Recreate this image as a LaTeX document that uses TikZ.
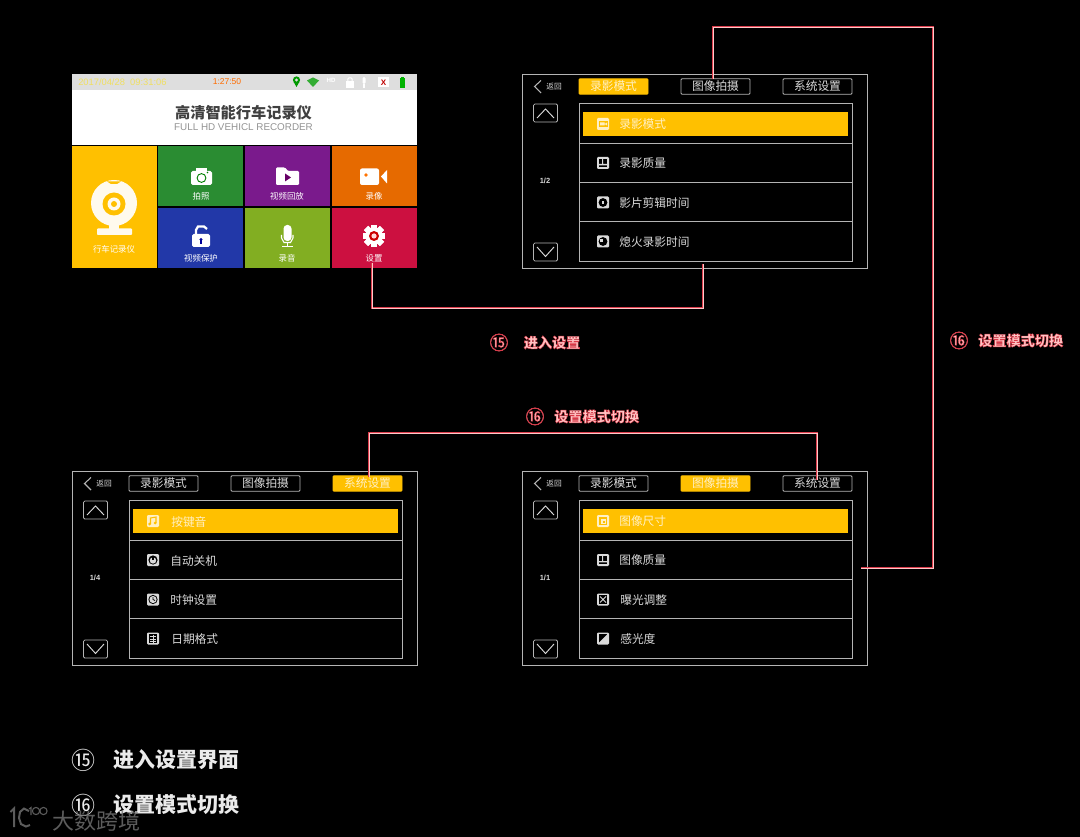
\documentclass[tikz,border=0pt]{standalone}
\usepackage{fontspec}
\setmainfont{Liberation Sans}
\newfontfamily\cjk{Noto Sans CJK SC}
\usetikzlibrary{calc}
\definecolor{amber}{HTML}{FFC000}
\definecolor{edgegray}{HTML}{B4B4B4}
\definecolor{uitext}{HTML}{DADADA}
\definecolor{onamber}{HTML}{FFF0C4}
\definecolor{linkred}{HTML}{DC3C4C}
\definecolor{linkcore}{HTML}{FFC8C8}
\definecolor{labelred}{HTML}{FFC4C4}
\newcommand\fsz[1]{\fontsize{#1}{#1}\selectfont}
\newcommand\redoutline[1]{\special{pdf:code 2 Tr 0.3 w 0.86 0.22 0.28 RG}#1\special{pdf:code 0 Tr}}
\colorlet{iconfg}{uitext}
\colorlet{iconbg}{black}
\tikzset{
  x=0.75pt,y=-0.75pt,
  uibox/.style={draw=edgegray,line width=0.62pt,inner sep=0pt,outer sep=0pt},
  tabbox/.style={uibox,rounded corners=0.7pt,minimum width=51.75pt,minimum height=11.6pt,font=\cjk\fsz{8.8pt},text=uitext},
  tabon/.style={draw=amber,fill=amber,text=onamber},
  navbtn/.style={uibox,rounded corners=1pt,minimum width=18pt,minimum height=13.5pt},
  rowtext/.style={anchor=west,inner sep=0pt,yshift=-0.4pt,font=\cjk\fsz{8.8pt},text=uitext},
  tile/.style={inner sep=0pt,outer sep=0pt,minimum width=63.75pt,minimum height=45pt},
  tilelabel/.style={inner sep=0pt,font=\cjk\fsz{6.3pt},text=white},
  linkline/.style={draw=linkred,double=linkcore,line width=0.55pt,double distance=0.6pt},
  redlabel/.style={inner sep=0pt,font=\cjk\bfseries\fsz{10.6pt},text=labelred,anchor=west},
  rednum/.style={inner sep=0pt,font=\cjk\fsz{14pt},text=labelred},
  legendtext/.style={inner sep=0pt,font=\cjk\bfseries\fsz{15.7pt},text=white!92!black,anchor=west},
  legendnum/.style={inner sep=0pt,font=\cjk\fsz{18pt},text=white!92!black},
}
% frame of a menu screen, coordinates as in the top right screen
\newcommand\uiframe[3]{%
  \tikzset{tabpick1/.style={},tabpick2/.style={},tabpick3/.style={},tabpick#2/.style={tabon}}%
  \node[uibox,minimum width=258.75pt,minimum height=145.5pt] (#1-frame) at (694.5,171) {};
  \draw[edgegray,line width=0.8pt] (541,80.5) -- (534.5,86.5) -- (541,93);
  \node[inner sep=0pt,font=\cjk\fsz{5.8pt},text=uitext] (#1-back) at (554,87) {返回};
  \node[tabbox,tabpick1] (#1-tab1) at (613.5,86.5) {录影模式};
  \node[tabbox,tabpick2] (#1-tab2) at (715.5,86.5) {图像拍摄};
  \node[tabbox,tabpick3] (#1-tab3) at (817.5,86.5) {系统设置};
  \node[navbtn] (#1-up) at (545.5,113) {};
  \draw[uitext,line width=0.7pt] (537,118) -- (545.5,109) -- (554,118);
  \node[navbtn] (#1-down) at (545.5,252) {};
  \draw[uitext,line width=0.7pt] (537,247) -- (545.5,256.5) -- (554,247);
  \node[inner sep=0pt,font=\bfseries\fsz{5.6pt},text=uitext] (#1-page) at (545,180.5) {#3};
  \node[uibox,minimum width=204.75pt,minimum height=118pt] (#1-list) at (715.5,182.5) {};
  \draw[edgegray,line width=0.62pt] (#1-list.west |- 0,143) -- (#1-list.east |- 0,143)
    (#1-list.west |- 0,182.5) -- (#1-list.east |- 0,182.5)
    (#1-list.west |- 0,221.5) -- (#1-list.east |- 0,221.5);
  \fill[amber] (583,112) rectangle (848,136);
}
% one row: name, y centre, text left edge, text, icon macro
\newcommand\uirow[5]{%
  \begin{scope}[shift={(603,#2)}]\iconbox #5\end{scope}
  \node[rowtext] (#1) at (#3,#2) {#4};
}
\newcommand\uirowon[5]{%
  \begingroup\colorlet{iconfg}{onamber}\colorlet{iconbg}{amber}%
  \begin{scope}[shift={(603,#2)}]\iconbox #5\end{scope}
  \node[rowtext,text=onamber] (#1) at (#3,#2) {#4};
  \endgroup
}
\newcommand\iconbox{\fill[iconfg,rounded corners=0.9pt] (-6,-6) rectangle (6,6);}
\newcommand\icmode{\fill[iconbg] (-4.5,-3) rectangle (4.5,3); \fill[iconfg] (-3,-1.5) rectangle (1.5,1.5) (1.5,0) -- (4,-1.5) -- (4,1.5) -- cycle;}
\newcommand\icqual{\fill[iconbg] (-4,-4) rectangle (4,4); \fill[iconfg] (-4,1) rectangle (4,2.4) (-1,-4) rectangle (0,1) ;}
\newcommand\icclip{\fill[iconbg] (0,0) circle[radius=4.4]; \fill[iconfg] (-1.3,-1.3) rectangle (1.3,1.3);}
\newcommand\icoff{\fill[iconbg] (0,0) circle[radius=4.4]; \fill[iconfg] (-3.5,-2.5) rectangle (0,0.5);}
\newcommand\icresize{\fill[iconbg] (-4,-4) rectangle (4,4); \fill[iconfg] (-2,-2) rectangle (3,3); \fill[iconbg] (-0.3,-0.3) rectangle (1.5,1.5);}
\newcommand\icexpo{\fill[iconbg] (-4.4,-4.4) rectangle (4.4,4.4); \draw[iconfg,line width=0.6pt] (-3,-3) -- (3,3) (-3,3) -- (3,-3);}
\newcommand\icsens{\fill[iconbg] (-4.4,-4.4) rectangle (4.4,4.4); \fill[iconfg] (-4.4,4.4) -- (4.4,-4.4) -- (4.4,4.4) -- cycle;}
\newcommand\icsound{\draw[iconbg,line width=0.8pt] (-2.5,3) -- (-2.5,-3) -- (3,-4) -- (3,2); \fill[iconbg] (-3.5,3) circle[radius=1.5] (2,2) circle[radius=1.5];}
\newcommand\icpower{\fill[iconbg] (0,0) circle[radius=4.6]; \fill[iconfg] (0,0.5) circle[radius=3.2]; \fill[iconbg] (-0.7,-4.5) rectangle (0.7,0);}
\newcommand\icclock{\fill[iconbg] (0,0) circle[radius=4.6]; \fill[iconfg] (0,0) circle[radius=3.6]; \draw[iconbg,line width=0.6pt] (0,-2.6) -- (0,0) -- (2,1);}
\newcommand\icdate{\fill[iconbg] (-4.2,-4.2) rectangle (4.2,4.2); \draw[iconfg,line width=0.6pt] (-3,-2) -- (3,-2) (-3,0.5) -- (3,0.5) (-3,3) -- (3,3) (0,-4) -- (0,4);}
\begin{document}
\begin{tikzpicture}
\useasboundingbox (0,0) rectangle (1080,837);
\fill[black] (0,0) rectangle (1080,837);

% ---------- home screen
\fill[white] (72,90) rectangle (417,145);
\node[inner sep=0pt,outer sep=0pt,fill=white!87!black,minimum width=258.75pt,minimum height=12pt] (statusbar) at (244.5,82) {};
\node[inner sep=0pt,font=\fsz{7pt},text={rgb,255:red,240;green,222;blue,96},anchor=west] (stamp) at (78,82) {2017/04/28\ \ 09:31:06};
\node[inner sep=0pt,font=\fsz{6.4pt},text=orange!85!red] (timer) at (227,82) {1:27:50};
% status icons
\fill[green!60!black] (296.5,80) circle[radius=3.6];
\fill[green!60!black] (293.7,82) -- (296.5,87) -- (299.3,82) -- cycle;
\fill[white!87!black] (296.5,80) circle[radius=1.6];
\fill[green!60!black!80!white] (307,80.5) -- (313,77.5) -- (319,80.5) -- (313,87) -- cycle;
\node[inner sep=0pt,font=\bfseries\fsz{4.6pt},text=white] (hdmark) at (331,80) {HD};
\fill[white] (346,81) rectangle (354,88);
\draw[white,line width=0.7pt] (347.8,81) -- (347.8,79) -- (349,77.8) -- (351,77.8) -- (352.2,79) -- (352.2,81);
\fill[white,rounded corners=1pt] (362.5,77) rectangle (365.5,84);
\fill[white] (363.4,84) rectangle (364.6,88);
\fill[white] (378,77.5) rectangle (389,87.5);
\node[inner sep=0pt,font=\bfseries\fsz{6pt},text=red!75!black] (xmark) at (383.5,82.5) {X};
\fill[green!70!black] (399.5,78) rectangle (405,88);
\fill[green!70!black] (401,77) rectangle (403.5,78);
\node[inner sep=0pt,font=\cjk\bfseries\fsz{11.4pt},text=black!75] (hometitle) at (243.5,112.5) {高清智能行车记录仪};
\node[inner sep=0pt,font=\fsz{7.4pt},text=black!42] (homesub) at (243.5,127) {FULL HD VEHICL RECORDER};

% tiles
\node[tile,fill=amber,minimum height=91.5pt,minimum width=64pt] (tdash) at (114.5,207) {};
\node[tile,fill={rgb,255:red,42;green,140;blue,50}] (tphoto) at (200.5,176) {};
\node[tile,fill={rgb,255:red,122;green,26;blue,140}] (tplay) at (287.5,176) {};
\node[tile,fill={rgb,255:red,230;green,106;blue,0}] (trec) at (374.5,176) {};
\node[tile,fill={rgb,255:red,34;green,56;blue,168}] (tlock) at (200.5,238) {};
\node[tile,fill={rgb,255:red,130;green,174;blue,34}] (tmic) at (287.5,238) {};
\node[tile,fill={rgb,255:red,204;green,16;blue,64}] (tset) at (374.5,238) {};
\node[tilelabel] (ldash) at (114,249) {行车记录仪};
\node[tilelabel] (lphoto) at (201,196.5) {拍照};
\node[tilelabel] (lplay) at (287,196.5) {视频回放};
\node[tilelabel] (lrec) at (374,196.5) {录像};
\node[tilelabel] (llock) at (201,258) {视频保护};
\node[tilelabel] (lmic) at (287,258) {录音};
\node[tilelabel] (lset) at (374,258) {设置};
% webcam
\fill[onamber!30!white] (114,203) circle[radius=23];
\fill[amber] (114,204) circle[radius=11.5];
\fill[onamber!30!white] (114,204) circle[radius=6.5];
\fill[amber] (114,204) circle[radius=3];
\fill[amber] (107,181.5) -- (121,181.5) -- (117,184) -- (111,184) -- cycle;
\fill[onamber!30!white] (109,224) rectangle (119,229);
\fill[onamber!30!white,rounded corners=0.6pt] (97,228.5) rectangle (132,235);
% camera
\fill[white,rounded corners=1.2pt] (191,171) rectangle (212,185);
\fill[white] (196,168.5) rectangle (207,172);
\draw[green!50!black,line width=0.7pt] (201.5,178) circle[radius=4.4];
\fill[green!50!black] (207.5,172.5) circle[radius=0.8];
% folder
\fill[white,rounded corners=0.8pt] (276,167.5) -- (285,167.5) -- (288,171) -- (299,171) -- (299,185) -- (276,185) -- cycle;
\fill[violet!80!black] (285,173.5) -- (291,177.5) -- (285,181.5) -- cycle;
% video
\fill[white,rounded corners=1.5pt] (360,168.5) rectangle (379,185);
\fill[white] (381,176.5) -- (387,170) -- (387,183.5) -- cycle;
\fill[orange!90!red] (366,175) circle[radius=1.8];
% lock
\fill[white,rounded corners=1.2pt] (192,234) rectangle (210,247);
\draw[white,line width=1.7pt] (196,234) -- (196,230) -- (198,226.5) -- (204,226.5) -- (207,229);
\fill[blue!60!black] (201,239.5) circle[radius=1.6];
\fill[blue!60!black] (200.3,240) rectangle (201.7,244);
% microphone
\fill[white,rounded corners=2.7pt] (283.5,225) rectangle (291.5,241);
\draw[white,line width=0.8pt] (281.5,235) -- (281.5,238) -- (284,242.5) -- (290.5,242.5) -- (293,238) -- (293,235);
\draw[white,line width=0.8pt] (287.5,243) -- (287.5,246.5) (282,246.5) -- (293,246.5);
% gear
\foreach \a in {0,45,...,315}{\fill[white,rotate around={\a:(374,236)}] (371,224.8) rectangle (377,247.2);}
\fill[white] (374,236) circle[radius=8.7];
\fill[red!80!black] (374,236) circle[radius=5];
\fill[white!85!red] (374,236) circle[radius=2.6];

% ---------- menu screens
\begin{scope}
  \uiframe{sa}{1}{1/2}
  \uirowon{sa-r1}{124}{619}{录影模式}{\icmode}
  \uirow{sa-r2}{163}{619}{录影质量}{\icqual}
  \uirow{sa-r3}{202.5}{619}{影片剪辑时间}{\icclip}
  \uirow{sa-r4}{241.5}{619}{熄火录影时间}{\icoff}
\end{scope}
\begin{scope}[shift={(0,397)}]
  \uiframe{sb}{2}{1/1}
  \uirowon{sb-r1}{124}{619}{图像尺寸}{\icresize}
  \uirow{sb-r2}{163}{619}{图像质量}{\icqual}
  \uirow{sb-r3}{202.5}{620}{曝光调整}{\icexpo}
  \uirow{sb-r4}{241.5}{620}{感光度}{\icsens}
\end{scope}
\begin{scope}[shift={(-450,397)}]
  \uiframe{sc}{3}{1/4}
  \uirowon{sc-r1}{124}{621}{按键音}{\icsound}
  \uirow{sc-r2}{163}{620}{自动关机}{\icpower}
  \uirow{sc-r3}{202.5}{620}{时钟设置}{\icclock}
  \uirow{sc-r4}{241.5}{621}{日期格式}{\icdate}
\end{scope}

% ---------- connectors
\coordinate (linkAfrom) at (372,263);
\coordinate (linkAto) at (703,264);
\coordinate (linkBfrom) at (713,79);
\coordinate (linkBto) at (861,568);
\coordinate (linkCfrom) at (369,477);
\coordinate (linkCto) at (817,480);
\coordinate (linkAy) at (0,308);
\coordinate (linkBtop) at (933,27);
\coordinate (linkCy) at (0,433);
\draw[linkline] (linkAfrom) -- (linkAfrom |- linkAy) -- (linkAto |- linkAy) -- (linkAto);
\draw[linkline] (linkBfrom) -- (linkBfrom |- linkBtop) -- (linkBtop) -- (linkBtop |- linkBto) -- (linkBto);
\draw[linkline] (linkCfrom) -- (linkCfrom |- linkCy) -- (linkCto |- linkCy) -- (linkCto);

% ---------- red labels
\node[rednum] (n15) at (499,342.5) {\redoutline{⑮}};
\node[redlabel] (t15) at (523.5,342.5) {\redoutline{进入设置}};
\node[rednum] (n16a) at (535,416.5) {\redoutline{⑯}};
\node[redlabel] (t16a) at (554,416.5) {\redoutline{设置模式切换}};
\node[rednum] (n16b) at (959,340.5) {\redoutline{⑯}};
\node[redlabel] (t16b) at (978,340.5) {\redoutline{设置模式切换}};

% ---------- legend
\node[legendnum] (ln15) at (83,760) {⑮};
\node[legendtext] (lt15) at (113.5,760) {进入设置界面};
\node[legendnum] (ln16) at (83,805) {⑯};
\node[legendtext] (lt16) at (113.5,805) {设置模式切换};

% ---------- watermark
\begin{scope}[opacity=0.8]
\draw[black!55,line width=1.5pt] (10.5,812) -- (14,808.5) -- (14,827);
\draw[black!55,line width=1.5pt] (29,811) -- (24,808.5) -- (20,812) -- (19,818) -- (21,824) -- (26,826.5) -- (30,825);
\draw[black!55,line width=0.8pt] (29,809) -- (31,807.5) -- (31,815);
\draw[black!55,line width=0.8pt] (36,811) circle[radius=3.6] (43.5,811) circle[radius=3.6];
\node[inner sep=0pt,font=\cjk\fsz{16.5pt},text=black!55] (wm) at (96,821.5) {大数跨境};
\end{scope}
\end{tikzpicture}
\end{document}
